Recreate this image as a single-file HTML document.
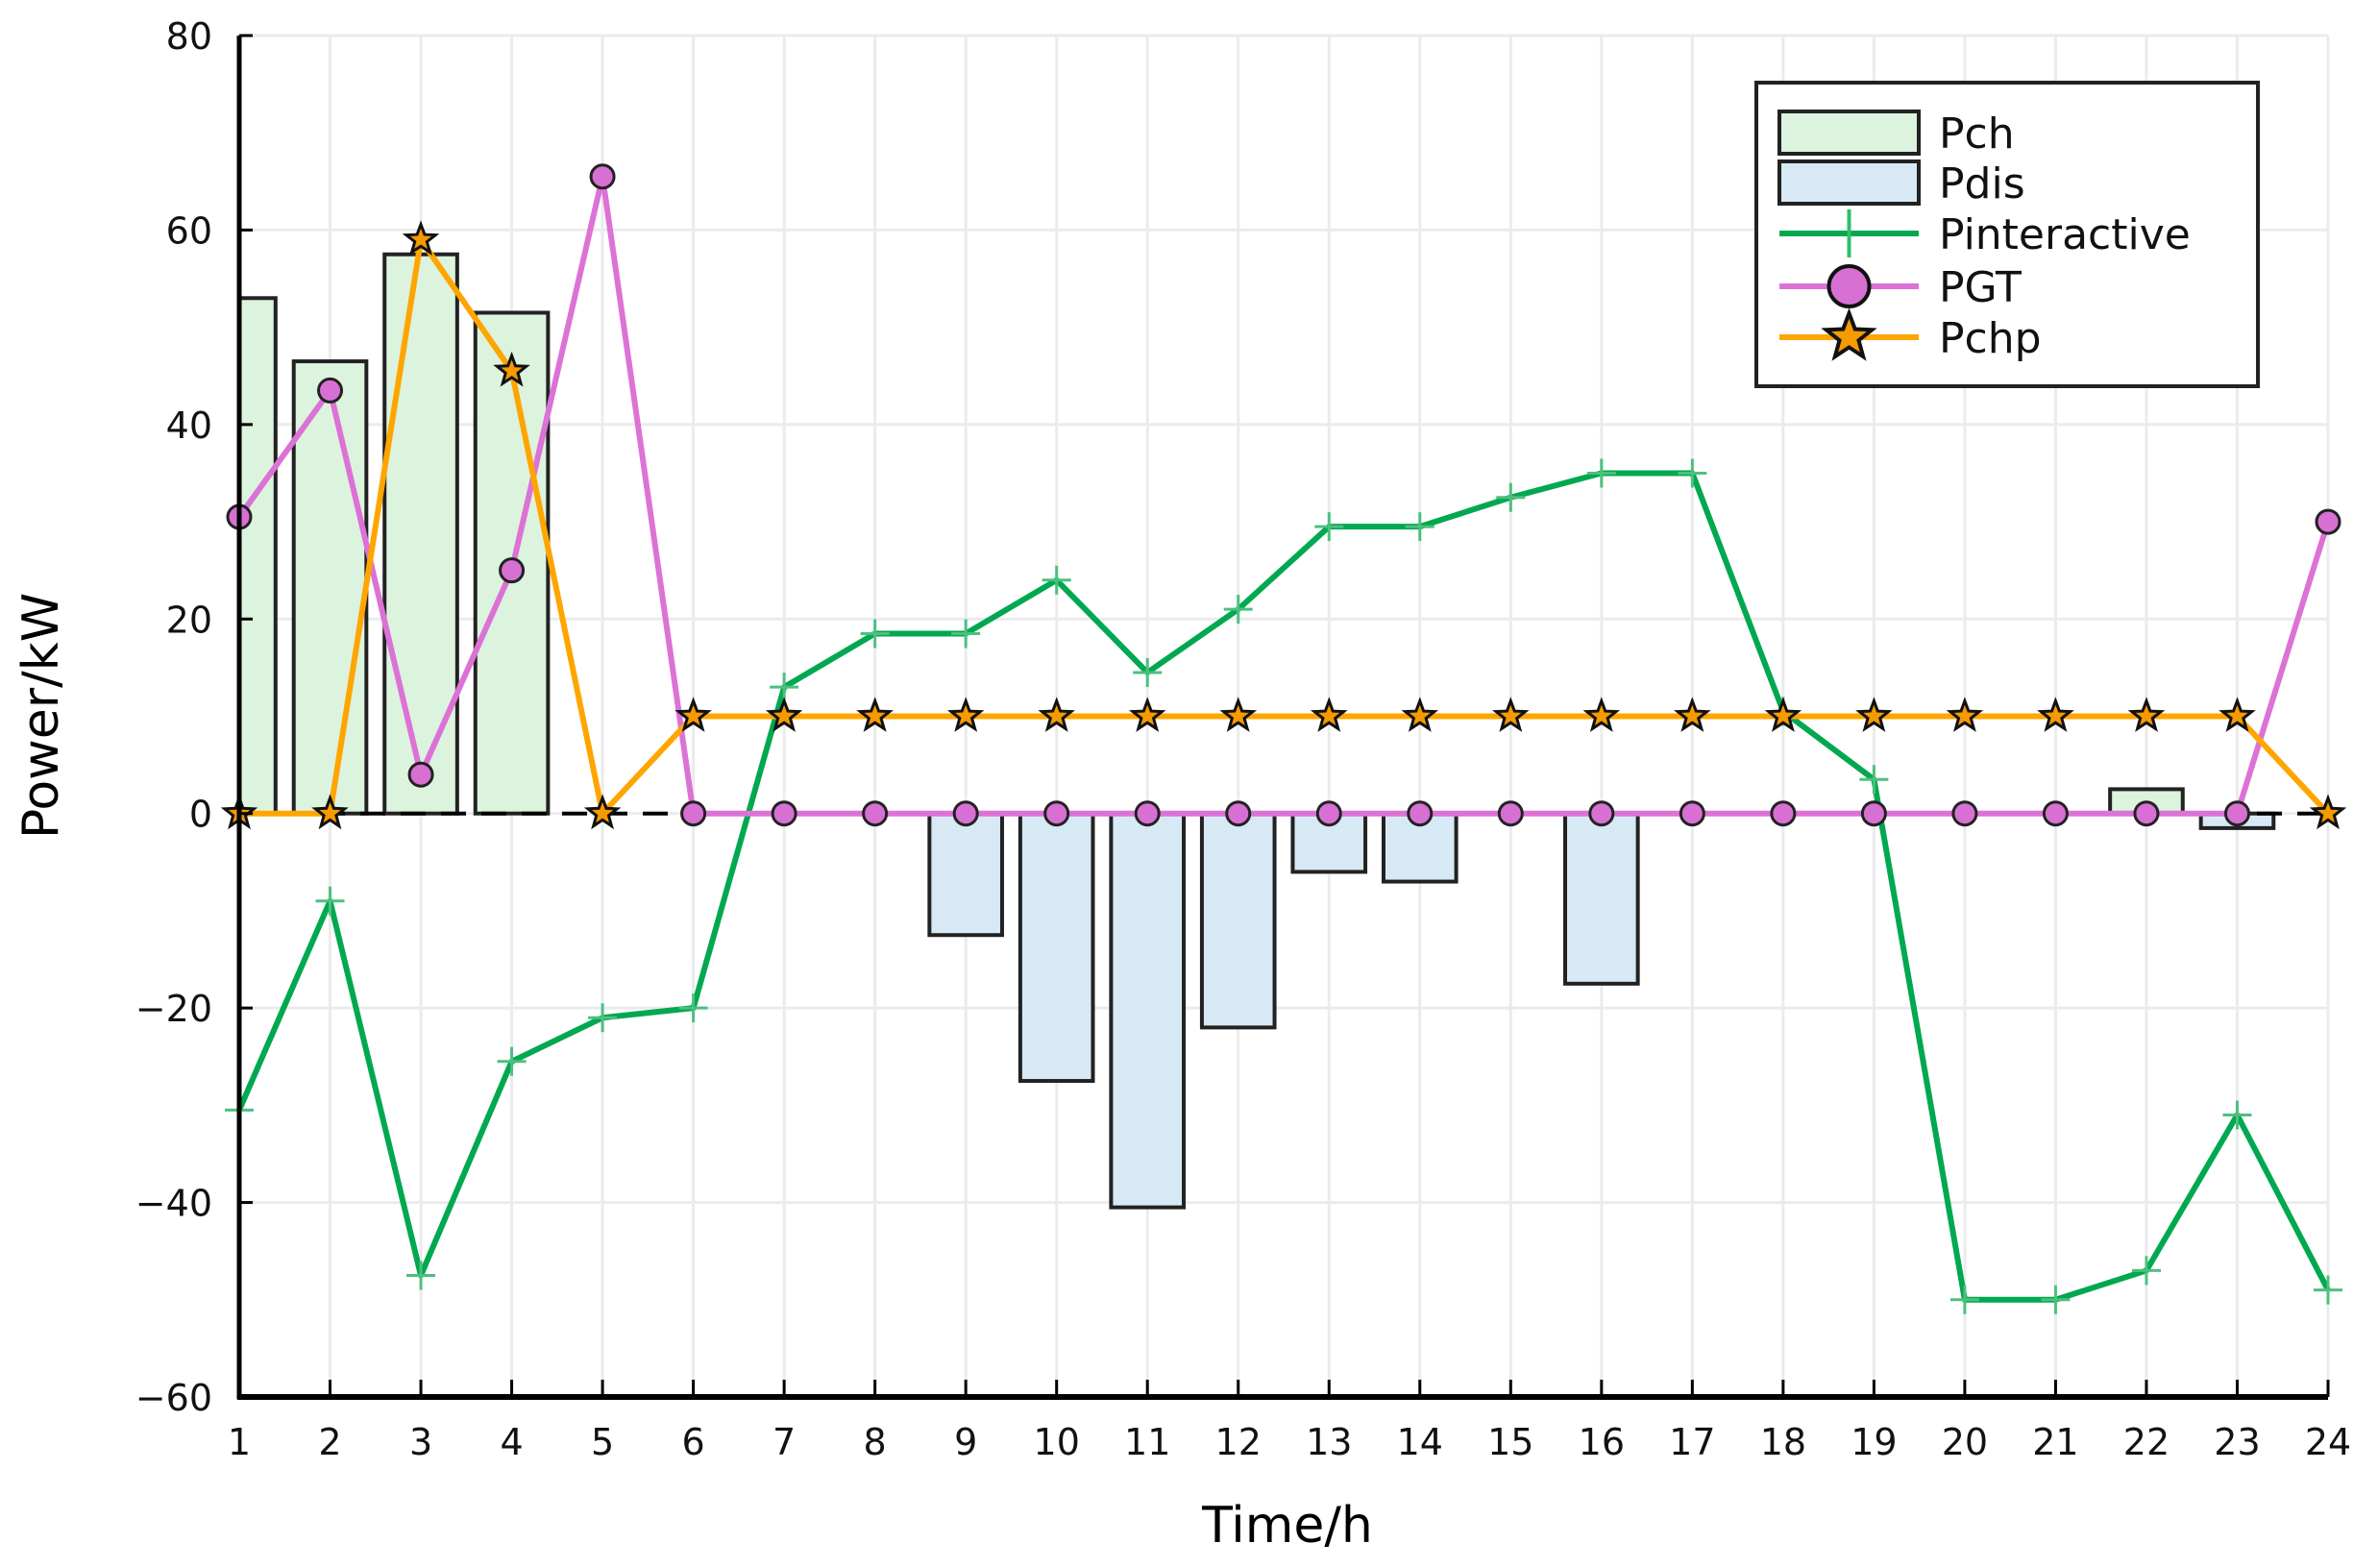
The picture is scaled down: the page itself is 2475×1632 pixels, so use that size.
<!DOCTYPE html>
<html><head><meta charset="utf-8"><style>
html,body{margin:0;padding:0;background:#fff;}
svg{display:block;font-family:"DejaVu Sans","Liberation Sans",sans-serif;}
</style></head><body>
<svg id="chart" width="2475" height="1632" viewBox="0 0 2475 1632" xmlns="http://www.w3.org/2000/svg">
<g id="grid"></g>
<g id="bars"></g>
<g id="lines"></g>
<g id="axes"></g>
<text x="60" y="745" font-size="52" text-anchor="middle" transform="rotate(-90 60 745)" fill="#000">Power/kW</text>
<text x="1340" y="1605" font-size="52" text-anchor="middle" fill="#000">Time/h</text>
<g id="legend"></g>
</svg>
<script>
const hours=[1,2,3,4,5,6,7,8,9,10,11,12,13,14,15,16,17,18,19,20,21,22,23,24];
const pch=[53,46.5,57.5,51.5,0,0,0,0,0,0,0,0,0,0,0,0,0,0,0,0,0,2.5,0,0];
const pdis=[0,0,0,0,0,0,0,0,-12.5,-27.5,-40.5,-22,-6,-7,0,-17.5,0,0,0,0,0,0,-1.5,0];
const pint=[-30.5,-9,-47.5,-25.5,-21,-20,13,18.5,18.5,24,14.5,21,29.5,29.5,32.5,35,35,10.5,3.5,-50,-50,-47,-31,-49];
const pgt=[30.5,43.5,4,25,65.5,0,0,0,0,0,0,0,0,0,0,0,0,0,0,0,0,0,0,30];
const pchp=[0,0,59,45.5,0,10,10,10,10,10,10,10,10,10,10,10,10,10,10,10,10,10,10,0];
const yTicks=[80,60,40,20,0,-20,-40,-60];

const L=249,R=2423,T=37,B=1454;
const xs=h=>L+(h-1)*(R-L)/23;
const ys=v=>T+(80-v)*(B-T)/140;
const NS="http://www.w3.org/2000/svg";
function mk(tag,attrs,parent){const e=document.createElementNS(NS,tag);for(const k in attrs)e.setAttribute(k,attrs[k]);parent.appendChild(e);return e;}
const svg=document.getElementById('chart');
const grid=document.getElementById('grid'),bars=document.getElementById('bars'),lines=document.getElementById('lines'),axes=document.getElementById('axes'),legend=document.getElementById('legend');

const cp=mk('clipPath',{id:'clip'},svg);
mk('rect',{x:L,y:T,width:R-L+4,height:B-T},cp);

hours.forEach(h=>{const g=mk('line',{x1:xs(h),x2:xs(h),y1:T,y2:B,stroke:'#ebebeb','stroke-width':3},grid);

});
yTicks.forEach(v=>{const g=mk('line',{x1:L,x2:R,y1:ys(v),y2:ys(v),stroke:'#ebebeb','stroke-width':3},grid);

});

bars.setAttribute('clip-path','url(#clip)');
const bw=0.8*(R-L)/23;
function drawBars(arr,fill,name){arr.forEach((v,i)=>{if(v===0)return;const y0=ys(0),y1=ys(v);
const r=mk('rect',{x:xs(hours[i])-bw/2,y:Math.min(y0,y1),width:bw,height:Math.abs(y1-y0),fill:fill,stroke:'#222','stroke-width':4},bars);

});}
drawBars(pch,'#dcf3de','pch-bar');
drawBars(pdis,'#d7e9f5','pdis-bar');

const zl=mk('line',{x1:L,x2:R,y1:ys(0),y2:ys(0),stroke:'#000','stroke-width':4,'stroke-dasharray':'26 16'},lines);



function pts(arr){return arr.map((v,i)=>xs(hours[i])+','+ys(v)).join(' ');}
function star(cx,cy,r){let p=[];for(let k=0;k<10;k++){const a=-Math.PI/2+k*Math.PI/5;const rr=k%2?r*0.42:r;p.push((cx+rr*Math.cos(a)).toFixed(1)+','+(cy+rr*Math.sin(a)).toFixed(1));}return p.join(' ');}

let pl=mk('polyline',{points:pts(pint),fill:'none',stroke:'#00a84f','stroke-width':6,'stroke-linejoin':'round'},lines);


pint.forEach((v,i)=>{const x=xs(hours[i]),y=ys(v);
const m=mk('path',{d:`M${x-15},${y}H${x+15}M${x},${y-15}V${y+15}`,stroke:'#4cc07e','stroke-width':3},lines);

});
pl=mk('polyline',{points:pts(pgt),fill:'none',stroke:'#dc72d6','stroke-width':6,'stroke-linejoin':'round'},lines);


pl=mk('polyline',{points:pts(pchp),fill:'none',stroke:'#ffa500','stroke-width':6,'stroke-linejoin':'round'},lines);


pgt.forEach((v,i)=>{const m=mk('circle',{cx:xs(hours[i]),cy:ys(v),r:12,fill:'#d870d4',stroke:'#222','stroke-width':3},lines);

});
pchp.forEach((v,i)=>{const m=mk('polygon',{points:star(xs(hours[i]),ys(v),16),fill:'#f59a00',stroke:'#111','stroke-width':3},lines);

});

let a=mk('line',{x1:L,x2:L,y1:T,y2:B+2,stroke:'#000','stroke-width':5},axes);


a=mk('line',{x1:L-2,x2:R,y1:B,y2:B,stroke:'#000','stroke-width':6},axes);


yTicks.forEach(v=>{const t=mk('line',{x1:L,x2:L+14,y1:ys(v),y2:ys(v),stroke:'#000','stroke-width':3},axes);


const tx=mk('text',{x:L-28,y:ys(v)+14,'font-size':38,'text-anchor':'end',fill:'#111'},axes);
tx.textContent=(v<0?'\u2212':'')+Math.abs(v);

});
hours.forEach(h=>{const t=mk('line',{x1:xs(h),x2:xs(h),y1:B,y2:B-18,stroke:'#000','stroke-width':3},axes);


const tx=mk('text',{x:xs(h),y:B+60,'font-size':38,'text-anchor':'middle',fill:'#111'},axes);
tx.textContent=h;

});

let lb=mk('rect',{x:1828,y:86,width:522,height:316,fill:'#fff',stroke:'#222','stroke-width':4},legend);


const entries=['Pch','Pdis','Pinteractive','PGT','Pchp'];
const ey=[138,190,243,298,351];
const sx1=1852,sx2=1997,sc=(sx1+sx2)/2;
entries.forEach((n,i)=>{const y=ey[i];let s;
if(i===0)s=mk('rect',{x:sx1,y:y-22,width:sx2-sx1,height:44,fill:'#dcf3de',stroke:'#222','stroke-width':4},legend);
else if(i===1)s=mk('rect',{x:sx1,y:y-22,width:sx2-sx1,height:44,fill:'#d7e9f5',stroke:'#222','stroke-width':4},legend);
else if(i===2){s=mk('g',{},legend);mk('line',{x1:sx1,x2:sx2,y1:y,y2:y,stroke:'#00a84f','stroke-width':6},s);mk('line',{x1:sc,x2:sc,y1:y-25,y2:y+25,stroke:'#2ebf6c','stroke-width':4},s);}
else if(i===3){s=mk('g',{},legend);mk('line',{x1:sx1,x2:sx2,y1:y,y2:y,stroke:'#dc72d6','stroke-width':6},s);mk('circle',{cx:sc,cy:y,r:21,fill:'#d870d4',stroke:'#111','stroke-width':4},s);}
else {s=mk('g',{},legend);mk('line',{x1:sx1,x2:sx2,y1:y,y2:y,stroke:'#ffa500','stroke-width':6},s);mk('polygon',{points:star(sc,y,25),fill:'#f59a00',stroke:'#111','stroke-width':4},s);}


const tx=mk('text',{x:2018,y:y+16,'font-size':44,fill:'#111'},legend);
tx.textContent=n;

});
</script>
</body></html>
